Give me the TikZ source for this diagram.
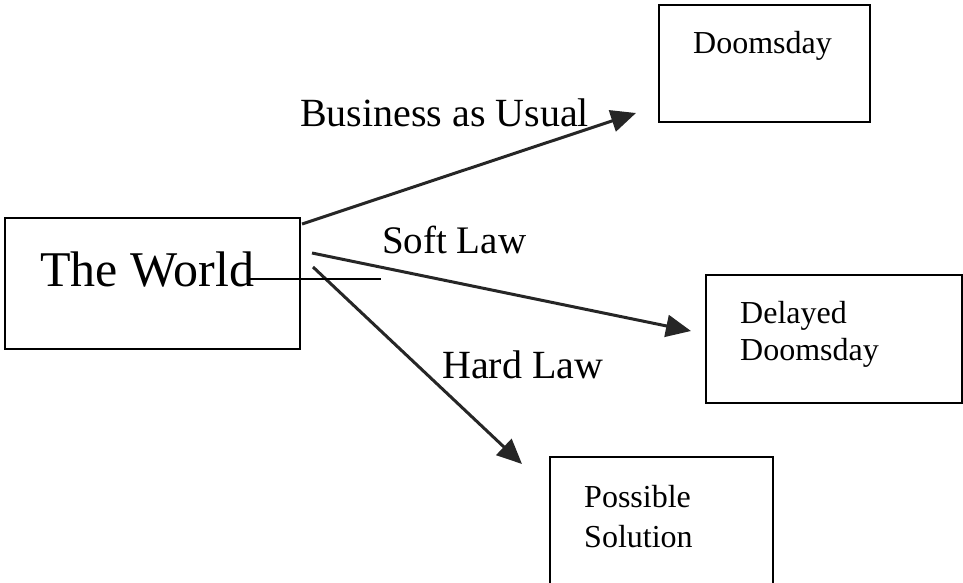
\documentclass[tikz,border=0pt]{standalone}
\usepackage{fontspec}
\setmainfont{Liberation Serif}
\usetikzlibrary{arrows.meta}
\begin{document}
\begin{tikzpicture}[x=1pt,y=-1pt,
  box/.style={draw,line width=2.4pt,inner sep=0pt},
  txt/.style={anchor=base west,inner sep=0pt,text=black},
  conn/.style={line width=3pt,-{Triangle[length=25pt,width=22pt]},color=black!85},
  thin/.style={line width=1.3pt}]
\useasboundingbox (0,0) rectangle (963,583);
\clip (0,0) rectangle (963,583);
% boxes
\node[box,minimum width=295pt,minimum height=131pt,anchor=north west] (world) at (4,217) {};
\node[box,minimum width=211pt,minimum height=117pt,anchor=north west] (dooms) at (658,4) {};
\node[box,minimum width=256pt,minimum height=128pt,anchor=north west] (delayed) at (705,274) {};
\node[box,minimum width=223pt,minimum height=160pt,anchor=north west] (possible) at (549,456) {};
% box texts
\node[txt,font=\fontsize{50}{60}\selectfont] (tw) at (40,286) {The World};
\node[txt,font=\fontsize{32}{38}\selectfont] (td) at (693,54) {Doomsday};
\node[txt,font=\fontsize{32}{38}\selectfont] (tdl1) at (740,323) {Delayed};
\node[txt,font=\fontsize{32}{38}\selectfont] (tdl2) at (740,360) {Doomsday};
\node[txt,font=\fontsize{32}{38}\selectfont] (tp1) at (584,507) {Possible};
\node[txt,font=\fontsize{32}{38}\selectfont] (tp2) at (584,547) {Solution};
% connector end points
\coordinate (b0) at (302,224);
\coordinate (b1) at (636,113);
\coordinate (s0) at (312,253);
\coordinate (s1) at (691,331);
\coordinate (h0) at (313,267);
\coordinate (h1) at (522,464);
\coordinate (l0) at (250,279);
\coordinate (l1) at (381,279);
% connectors
\draw[conn] (b0) -- (b1);
\draw[conn] (s0) -- (s1);
\draw[conn] (h0) -- (h1);
\draw[thin] (l0) -- (l1);
% labels
\node[txt,font=\fontsize{40}{48}\selectfont] (lb) at (300,127) {Business as Usual};
\node[txt,font=\fontsize{39}{47}\selectfont] (ls) at (382,253) {Soft Law};
\node[txt,font=\fontsize{40}{48}\selectfont] (lh) at (442,378) {Hard Law};
\end{tikzpicture}
\end{document}
